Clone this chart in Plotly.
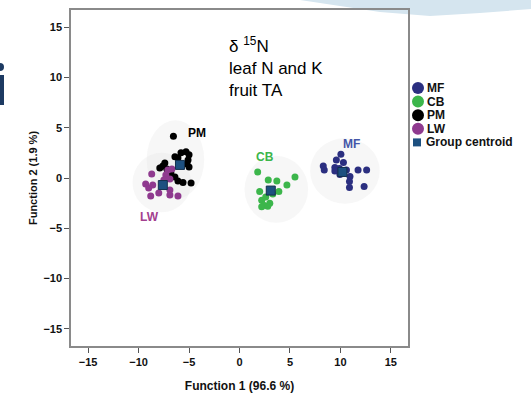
import plotly.graph_objects as go

# ---------------- data ----------------
groups = ["MF", "CB", "PM", "LW"]
legend_names = ["MF", "CB", "PM", "LW", "Group centroid"]

mf_x = [10.05, 9.6, 10.3, 8.3, 9.45, 9.9, 8.4, 9.45, 10.6, 11.75, 12.6, 10.95, 10.9, 10.9, 12.35, 9.95]
mf_y = [2.35, 1.8, 1.55, 1.2, 1.05, 0.95, 0.8, 0.7, 0.8, 0.8, 0.8, 0.15, -0.35, -0.95, -0.85, 0.35]

cb_x = [1.8, 2.85, 3.7, 4.7, 5.5, 3.9, 2.0, 2.2, 2.4, 3.0, 2.2, 2.8, 2.6, 3.3]
cb_y = [0.6, -0.2, -0.3, -0.7, 0.1, -1.35, -1.35, -2.2, -2.7, -2.5, -2.85, -2.8, -1.9, -1.6]

pm_x = [-6.55, -5.8, -5.3, -5.0, -6.4, -6.1, -5.1, -5.2, -5.0, -7.9, -7.6, -7.2, -6.8, -6.4, -6.1, -5.6, -4.8, -7.4]
pm_y = [4.15, 2.5, 2.6, 2.3, 2.1, 2.0, 1.8, 1.4, 1.1, 1.0, 1.2, 0.9, 0.5, 0.1, -0.3, -0.45, -0.5, 1.5]

lw_x = [-7.1, -6.7, -8.7, -7.3, -6.9, -9.0, -8.6, -8.0, -8.8, -6.9, -6.9, -6.1, -7.5, -9.3]
lw_y = [0.8, 0.9, 0.4, 0.3, -0.1, -1.0, -0.7, -1.5, -1.8, -1.2, -1.7, -1.8, -0.2, -0.6]

centroid_x = [10.2, 3.1, -5.9, -7.6]
centroid_y = [0.6, -1.25, 1.3, -0.7]

label_x = [11.1, 2.5, -4.2, -8.95]
label_y = [3.35, 2.05, 4.5, -3.9]

x_ticks = [-15, -10, -5, 0, 5, 10, 15]
y_ticks = [-15, -10, -5, 0, 5, 10, 15]

# ---------------- style ----------------
colors = {"MF": "#2b2f80", "CB": "#3cb64b", "PM": "#000000", "LW": "#8f3a8f"}
label_colors = {"MF": "#4456a8", "CB": "#3cb64b", "PM": "#000000", "LW": "#a3408f"}
CENTROID = "#1d5080"
FONT = "Liberation Sans, Arial, sans-serif"

W, H = 531, 396
L, R, T, B = 71, 123, 10, 50
PW, PH = W - L - R, H - T - B


def px(x):
    return (x - L) / PW


def py(y):
    return (H - B - y) / PH


data = {"MF": (mf_x, mf_y), "CB": (cb_x, cb_y), "PM": (pm_x, pm_y), "LW": (lw_x, lw_y)}

fig = go.Figure()

shapes = []
# faint grey clouds around each group (derived from the data)
for g in groups:
    xs, ys = data[g]
    shapes.append(dict(type="circle", xref="x", yref="y", layer="below",
                       x0=min(xs) - 1.3, x1=max(xs) + 1.3,
                       y0=min(ys) - 1.6, y1=max(ys) + 1.6,
                       fillcolor="rgba(228,228,228,0.28)", line=dict(width=0)))

for g in groups:
    xs, ys = data[g]
    fig.add_trace(go.Scatter(x=xs, y=ys, mode="markers", name=g, showlegend=False,
                             marker=dict(color=colors[g], size=7, line=dict(width=0))))

fig.add_trace(go.Scatter(x=centroid_x, y=centroid_y, mode="markers", name="Group centroid",
                         showlegend=False,
                         marker=dict(symbol="square", color=CENTROID, size=9,
                                     line=dict(color="#13304d", width=1))))

annotations = []
for g, lx, ly in zip(groups, label_x, label_y):
    annotations.append(dict(x=lx, y=ly, xref="x", yref="y", text="<b>%s</b>" % g,
                            showarrow=False, font=dict(family=FONT, size=12, color=label_colors[g])))

annotations.append(dict(x=px(227), y=py(32), xref="paper", yref="paper", xanchor="left", yanchor="top",
                        align="left", showarrow=False,
                        text="δ <sup>15</sup>N<br>leaf N and K<br>fruit TA",
                        font=dict(family=FONT, size=17, color="#000000")))

# manual legend (compact, like the reference)
leg_x0, leg_y0, leg_dy = 412, 88, 13.6
for i, name in enumerate(legend_names):
    cy = leg_y0 + i * leg_dy
    if name in colors:
        shapes.append(dict(type="circle", xref="paper", yref="paper",
                           x0=px(leg_x0), x1=px(leg_x0 + 12), y0=py(cy + 6), y1=py(cy - 6),
                           fillcolor=colors[name], line=dict(width=0)))
        tx = leg_x0 + 13
    else:
        shapes.append(dict(type="rect", xref="paper", yref="paper",
                           x0=px(leg_x0 + 1), x1=px(leg_x0 + 9), y0=py(cy + 4), y1=py(cy - 4),
                           fillcolor=CENTROID, line=dict(width=0)))
        tx = leg_x0 + 12
    annotations.append(dict(x=px(tx), y=py(cy), xref="paper", yref="paper", xanchor="left",
                            yanchor="middle", showarrow=False, text="<b>%s</b>" % name,
                            font=dict(family=FONT, size=12, color="#111111")))

# slide decorations: partial "i" at the left edge and light-blue swoosh at top right
shapes.append(dict(type="rect", xref="paper", yref="paper", x0=px(-6), x1=px(4), y0=py(105), y1=py(75),
                   fillcolor="#1d3a62", line=dict(width=0)))
shapes.append(dict(type="circle", xref="paper", yref="paper", x0=px(-4), x1=px(4), y0=py(71), y1=py(63),
                   fillcolor="#1d3a62", line=dict(width=0)))

sw = [(300, 0), (340, 6), (380, 12), (430, 16), (480, 13), (531, 9), (531, 0)]
path = "M " + " L ".join("%.4f,%.4f" % (px(a), py(b)) for a, b in sw) + " Z"
shapes.append(dict(type="path", xref="paper", yref="paper", path=path, layer="below",
                   fillcolor="#d5e5ef", line=dict(width=0)))

axis_common = dict(range=[-16.7, 16.7], showgrid=False, zeroline=False, showline=True, mirror=True,
                   linecolor="#8a8a8a", linewidth=1.5, ticks="outside", ticklen=5, tickcolor="#555555",
                   automargin=False,
                   tickfont=dict(family=FONT, size=11, color="#111111", weight="bold"))

fig.update_layout(
    width=W, height=H,
    margin=dict(l=L, r=R, t=T, b=B, autoexpand=False),
    paper_bgcolor="white", plot_bgcolor="white",
    xaxis=dict(tickvals=x_ticks, title=dict(text="<b>Function 1 (96.6 %)</b>", standoff=15,
                                             font=dict(family=FONT, size=12, color="#111111")),
               **axis_common),
    yaxis=dict(tickvals=y_ticks, title=dict(text="<b>Function 2 (1.9 %)</b>", standoff=4,
                                             font=dict(family=FONT, size=11, color="#111111")),
               **axis_common),
    shapes=shapes,
    annotations=annotations,
    showlegend=False,
)

fig.write_html("out.html", config={"displayModeBar": False},
               post_script="document.body.style.margin='0';document.body.style.padding='0';")
